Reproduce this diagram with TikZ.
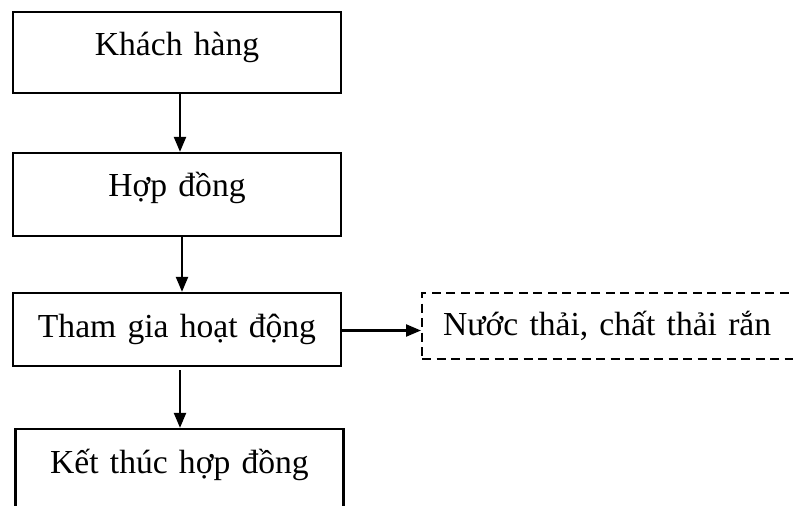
\documentclass[tikz,border=0pt]{standalone}
\usepackage{fontspec}
\setmainfont{Liberation Serif}
\usetikzlibrary{arrows.meta}
\begin{document}
\begin{tikzpicture}[x=1pt,y=-1pt,
  every node/.style={font=\fontsize{33.6pt}{40pt}\selectfont},
  stepbox/.style={draw,line width=2.3pt,inner xsep=0pt,inner ysep=0pt,
    anchor=base,text width=328pt,align=center},
  outbox/.style={draw,line width=2.3pt,dash pattern=on 9pt off 5.5pt,
    inner xsep=21pt,inner ysep=0pt,anchor=base west,text width=420pt,align=left},
  flow/.style={line width=2.3pt,-{Triangle[length=15pt,width=12pt]}}]
\useasboundingbox (0,0) rectangle (793,506);
\clip (0,0) rectangle (793,506);
\node[stepbox,text height=43pt,text depth=38pt] (b1) at (177,55) {Khách hàng};
\node[stepbox,text height=43pt,text depth=40pt] (b2) at (177,196) {Hợp đồng};
\node[stepbox,text height=44pt,text depth=29pt] (b3) at (177,337) {Tham gia hoạt động};
\node[stepbox,text height=44pt,text depth=80pt] (b4) at (179.5,473) {Kết thúc hợp đồng};
\node[outbox,text height=42pt,text depth=24pt] (b5) at (421,335) {Nước thải, chất thải rắn};
\draw[flow] ([xshift=3pt]b1.south) -- ([xshift=3pt]b1.south |- b2.north);
\draw[flow] ([xshift=5pt]b2.south) -- ([xshift=5pt]b2.south |- b3.north);
\draw[flow,shorten <=3pt] ([xshift=3pt]b3.south) -- ([xshift=3pt]b3.south |- b4.north);
\draw[flow] ([yshift=-1pt]b3.east) -- ([yshift=-1pt]b3.east -| b5.west);
\end{tikzpicture}
\end{document}
